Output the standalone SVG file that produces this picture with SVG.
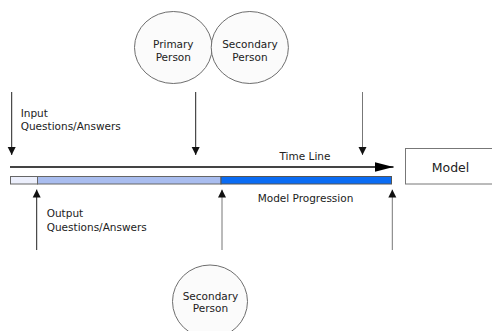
<svg xmlns="http://www.w3.org/2000/svg" width="492" height="331" viewBox="0 0 492 331">
<defs>
<marker id="ah" viewBox="0 0 8 10" refX="8" refY="5" markerWidth="8" markerHeight="10" markerUnits="userSpaceOnUse" orient="auto">
<path d="M0,1 L8,5 L0,9 Z" fill="#111"/>
</marker>
<marker id="big" viewBox="0 0 19 10" refX="19" refY="5" markerWidth="19" markerHeight="10" markerUnits="userSpaceOnUse" orient="auto">
<path d="M0,0 L19,5 L0,10 Z" fill="#000"/>
</marker>
</defs>
<style>
text{font-family:"DejaVu Sans",Verdana,sans-serif;font-size:10.5px;fill:#222}
.c{text-anchor:middle}
.node{fill:#fbfbfb;stroke:#6e6e6e;stroke-width:1}
.arr{stroke:#222;stroke-width:1;fill:none;marker-end:url(#ah)}
.arrg{stroke:#777;stroke-width:1;fill:none;marker-end:url(#ah)}
</style>
<rect width="492" height="331" fill="#fff"/>
<g id="primary-person">
<ellipse class="node" cx="173.3" cy="47.5" rx="38.8" ry="36"/>
<text class="c" x="173.3" y="48">Primary</text>
<text class="c" x="173.3" y="60.5">Person</text>
</g>
<g id="secondary-person-top">
<ellipse class="node" cx="249.8" cy="47.5" rx="38.6" ry="36"/>
<text class="c" x="250" y="48">Secondary</text>
<text class="c" x="250" y="60.5">Person</text>
</g>
<g id="secondary-person-bottom">
<ellipse class="node" cx="210" cy="301.5" rx="37.5" ry="36.5"/>
<text class="c" x="210.5" y="300">Secondary</text>
<text class="c" x="210.5" y="312">Person</text>
</g>
<g id="model">
<rect x="405.5" y="148.5" width="100" height="35.5" fill="#fff" stroke="#777" stroke-width="1"/>
<text class="c" x="450.5" y="172" style="font-size:12.5px">Model</text>
</g>
<g id="model-progression">
<rect x="10.5" y="176.5" width="27" height="7.5" fill="#eceffc" stroke="#666" stroke-width="1"/>
<rect x="37.5" y="176.5" width="183.5" height="7.5" fill="#a9bdef" stroke="#666" stroke-width="1"/>
<rect x="221" y="176.5" width="170.5" height="7.5" fill="#0a6cf4" stroke="#555" stroke-width="1"/>
<text class="c" x="305.5" y="201.5">Model Progression</text>
</g>
<g id="connectors">
<line x1="10" y1="167" x2="393.5" y2="167" stroke="#444" stroke-width="2" marker-end="url(#big)"/>
<text class="c" x="305" y="160">Time Line</text>
<line class="arr" x1="11.7" y1="92" x2="11.7" y2="155"/>
<line class="arr" x1="195.7" y1="92" x2="195.7" y2="155"/>
<line class="arrg" x1="362.5" y1="92" x2="362.5" y2="155"/>
<line class="arr" x1="36.7" y1="250" x2="36.7" y2="189.5"/>
<line class="arrg" x1="222" y1="250" x2="222" y2="189.5"/>
<line class="arrg" x1="392.3" y1="250" x2="392.3" y2="189.5"/>
<text x="20.7" y="116.5">Input</text>
<text x="20.7" y="130">Questions/Answers</text>
<text x="46.7" y="216.5">Output</text>
<text x="46.7" y="230.5">Questions/Answers</text>
</g>
</svg>
